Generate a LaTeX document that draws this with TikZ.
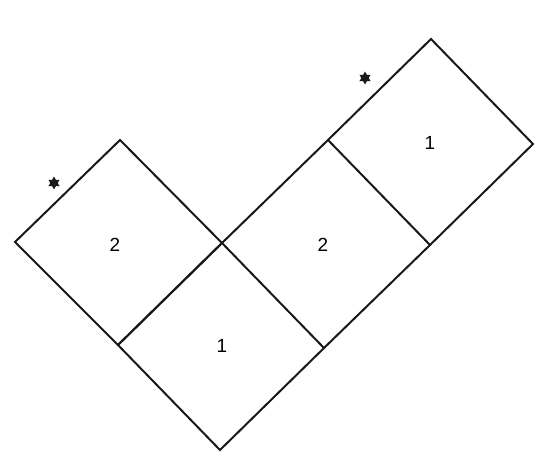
\documentclass[tikz,border=0pt]{standalone}
\usepackage{fontspec}
\setmainfont{Liberation Sans}
\usetikzlibrary{shapes.geometric}
\begin{document}
\begin{tikzpicture}[x=1pt,y=-1pt,
  edge/.style={draw=black!90,line width=2pt,line join=miter},
  lab/.style={font=\fontsize{19}{19}\selectfont,inner sep=0pt},
  mark6/.style={star,star points=6,star point ratio=1.75,fill=black!90,draw=none,minimum size=13pt,inner sep=0pt}]
\useasboundingbox (0,0) rectangle (550,466);
% vertices
\coordinate (L1) at (15,242);
\coordinate (T1) at (120,140);
\coordinate (C)  at (222,243);
\coordinate (J1) at (118,345);
\coordinate (B)  at (220,450);
\coordinate (J2) at (324,348);
\coordinate (T2) at (328,140);
\coordinate (J3) at (430,245);
\coordinate (T3) at (431,39);
\coordinate (R3) at (533,144);
% squares
\draw[edge] (L1) -- (T1) -- (C) -- (J1) -- cycle;
\draw[edge] (J1) -- (C) -- (J2) -- (B) -- cycle;
\draw[edge] (C) -- (T2) -- (J3) -- (J2);
\draw[edge] (T2) -- (T3) -- (R3) -- (J3);
% labels
\node[lab] (n1) at (115,245) {2};
\node[lab] (n2) at (222,346) {1};
\node[lab] (n3) at (323,245) {2};
\node[lab] (n4) at (430,143) {1};
% stars
\node[mark6] (s1) at (54,183) {};
\node[mark6] (s2) at (365,78) {};
\end{tikzpicture}
\end{document}
